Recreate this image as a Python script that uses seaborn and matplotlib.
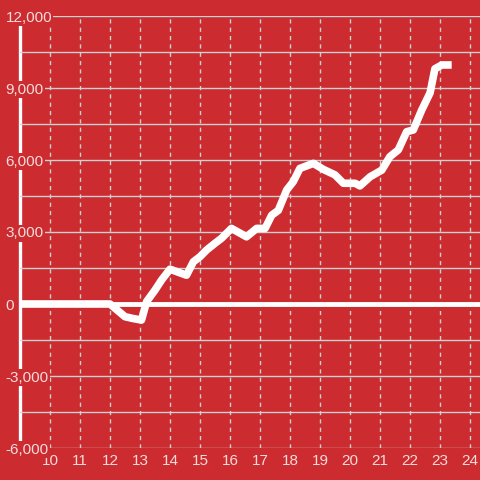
import numpy as np
import pandas as pd
import matplotlib
from matplotlib import pyplot as plt
import seaborn as sns

RED = '#CC2B2F'
GRID = '#D0D0D0'
TXT = '#F5DCDC'

matplotlib.rcParams['font.family'] = ['Liberation Sans', 'DejaVu Sans']
matplotlib.rcParams['font.size'] = 11

hours = [9, 12.0, 12.5, 12.75, 13.05, 13.22, 13.5, 13.72, 14.0, 14.22, 14.55, 14.78,
         15.0, 15.22, 15.5, 15.72, 16.05, 16.55, 16.89, 17.17, 17.39, 17.61, 17.89,
         18.11, 18.33, 18.78, 19.11, 19.5, 19.78, 20.17, 20.33, 20.67, 21.06, 21.33,
         21.61, 21.89, 22.11, 22.39, 22.67, 22.83, 23.06, 23.39]
values = [0, 0, -530, -600, -670, 100, 580, 1000, 1450, 1350, 1200, 1760,
          1970, 2250, 2530, 2740, 3150, 2800, 3150, 3150, 3700, 3900, 4750,
          5100, 5650, 5860, 5610, 5380, 5030, 5030, 4920, 5300, 5580, 6140,
          6420, 7180, 7250, 8080, 8800, 9800, 9960, 9960]
x_ticks = list(range(10, 25))
y_ticks = [-6000, -3000, 0, 3000, 6000, 9000, 12000]
y_minor = [-4500, -1500, 1500, 4500, 7500, 10500]

df = pd.DataFrame({'hour': hours, 'value': values})

fig = plt.figure(figsize=(4.8, 4.8), dpi=100, facecolor=RED)
ax = fig.add_axes([20 / 480, 32 / 480, 460 / 480, 432 / 480])
ax.set_facecolor(RED)

ax.axhline(0, color='white', lw=3.5, zorder=3)
sns.lineplot(data=df, x='hour', y='value', ax=ax, color='white', lw=5.5, zorder=4,
             solid_capstyle='butt')

ax.set_xlim(9, 9 + 460 / 30)
ax.set_ylim(-6000, 12000)
ax.set_xticks(x_ticks)
ax.set_xticklabels([str(t) for t in x_ticks])
ax.set_yticks(y_ticks)
ax.set_yticks(y_minor, minor=True)
ax.set_yticklabels(['{:,}'.format(t) for t in y_ticks])
ax.set_xlabel('')
ax.set_ylabel('')

ax.grid(False)
ax.grid(axis='y', which='both', color=GRID, lw=1, ls='-')
ax.grid(axis='x', which='major', color=GRID, lw=1, ls=(0, (3, 3)))
ax.set_axisbelow(True)

for s in ['top', 'right', 'bottom']:
    ax.spines[s].set_visible(False)
ax.spines['left'].set_color('white')
ax.spines['left'].set_linewidth(2.4)
ax.spines['left'].set_zorder(0.3)

ax.tick_params(axis='both', which='both', length=0, colors=TXT, labelsize=11)
ax.tick_params(axis='x', pad=4)
ax.tick_params(axis='y', pad=10.5)
for lab in ax.get_yticklabels():
    lab.set_horizontalalignment('left')
    lab.set_bbox(dict(facecolor=RED, edgecolor='none', pad=1))

plt.savefig('out.png', dpi=100, facecolor=RED)
